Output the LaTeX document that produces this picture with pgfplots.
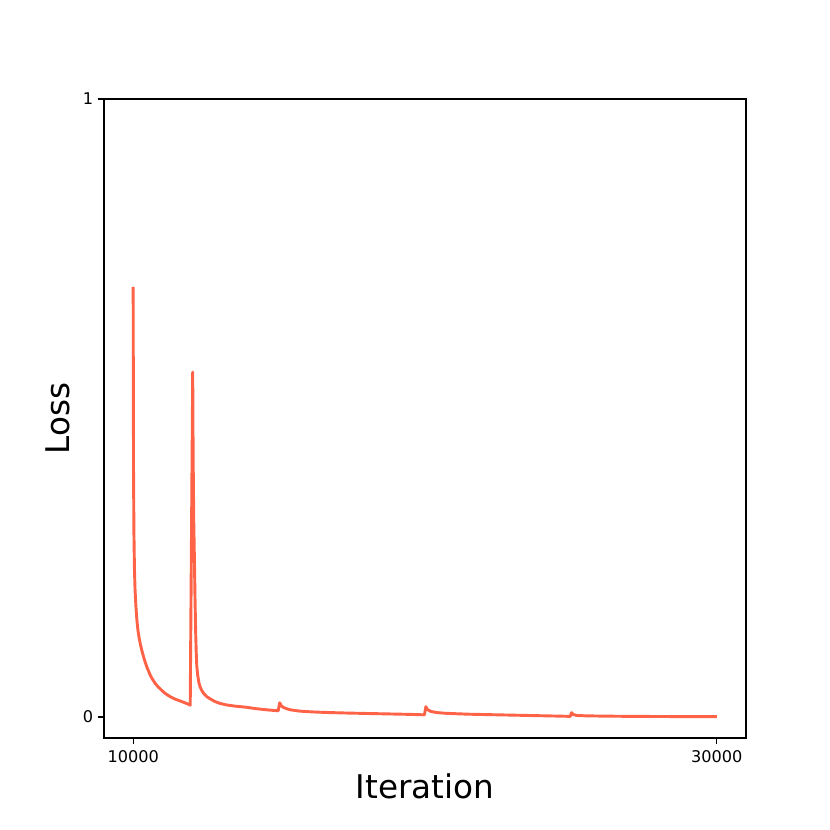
\documentclass[border=0pt]{standalone}
\usepackage{fontspec}
\setmainfont{DejaVu Sans}
\usepackage{pgfplots}
\pgfplotsset{compat=1.18}
\definecolor{tomato}{RGB}{255,99,71}
\begin{document}
\begin{tikzpicture}
\useasboundingbox (-74.88pt,-66.24pt) rectangle (522.72pt,531.36pt);
\begin{axis}[
  at={(0,0)}, anchor=south west,
  scale only axis,
  width=462.24pt, height=460.08pt,
  xmin=9000, xmax=31000,
  ymin=-0.034, ymax=1,
  xtick={10000,30000},
  ytick={0,1},
  xticklabels={10000,30000},
  yticklabels={0,1},
  scaled x ticks=false,
  scaled y ticks=false,
  tick align=outside,
  major tick length=4pt,
  every tick/.style={black, line width=0.92pt},
  axis line style={line width=0.92pt},
  xtick pos=bottom, ytick pos=left,
  /pgf/number format/assume math mode=true,
  tick label style={font=\fontsize{11.6pt}{13pt}\selectfont, inner sep=0pt},
  xticklabel style={anchor=base, yshift=-13.5pt},
  yticklabel style={anchor=east, xshift=-3.6pt},
  xlabel={Iteration},
  ylabel={Loss},
  label style={font=\fontsize{23.5pt}{28pt}\selectfont, inner sep=0pt},
  xlabel style={at={(axis description cs:0.5,0)}, anchor=base, yshift=-43.4pt},
  ylabel style={at={(axis description cs:0,0.5)}, anchor=base, yshift=25pt},
]
\addplot[color=tomato, line width=2.1pt, line join=round, no markers] coordinates {
(10000,0.696) (10005,0.55) (10012,0.40) (10025,0.30) (10044,0.238)
(10065,0.205) (10092,0.180) (10125,0.158) (10161,0.141) (10200,0.129)
(10250,0.117) (10300,0.107) (10352,0.098) (10410,0.089) (10468,0.081)
(10530,0.074) (10581,0.068) (10650,0.062) (10752,0.0545) (10850,0.049)
(10981,0.043) (11100,0.038) (11265,0.033) (11430,0.029) (11607,0.026)
(11770,0.023) (11925,0.020) (11955,0.019)
(12040,0.558) (12055,0.42) (12075,0.32) (12100,0.25) (12120,0.19)
(12140,0.14) (12160,0.105) (12180,0.082) (12210,0.068) (12250,0.056)
(12291,0.049) (12350,0.043) (12420,0.038) (12520,0.033) (12650,0.029)
(12800,0.025) (12974,0.022) (13200,0.0195) (13500,0.0175) (13887,0.0157)
(14200,0.0135) (14600,0.0115) (14970,0.0100)
(15020,0.023) (15080,0.018) (15150,0.0155) (15250,0.0135) (15400,0.0115)
(15700,0.0095) (16100,0.0083) (16500,0.0075) (17000,0.0068) (17500,0.0062)
(18500,0.0052) (19500,0.0042) (19980,0.0035)
(20030,0.0167) (20080,0.012) (20200,0.0090) (20400,0.0072) (20700,0.006)
(21100,0.0052) (21500,0.0045) (22500,0.0035) (23500,0.0025) (24500,0.0015)
(24980,0.001)
(25020,0.007) (25080,0.004) (25200,0.0025) (25500,0.0019) (26000,0.0015)
(27000,0.001) (28000,0.0008) (29000,0.0006) (30000,0.0005)
};
\end{axis}
\end{tikzpicture}
\end{document}
